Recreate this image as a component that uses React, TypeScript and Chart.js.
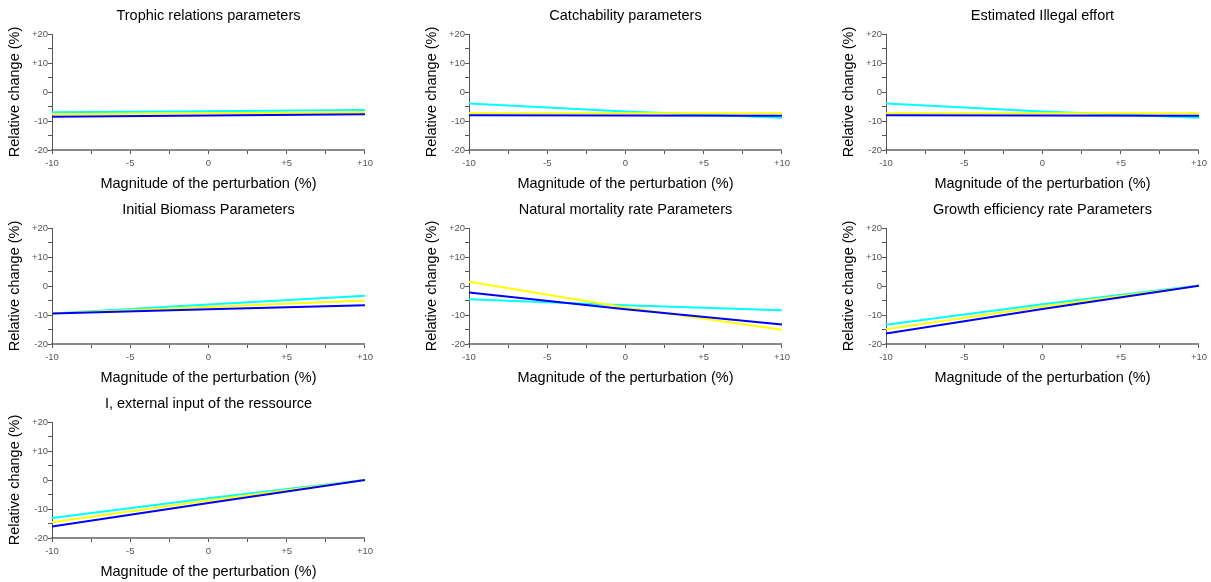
import React, { useEffect, useRef } from "react";
import { Chart, registerables } from "chart.js";

Chart.register(...registerables);

// Shared axis data
const perturbation = [-10, 0, 10];
const xTickValues = [-10, -5, 0, 5, 10];
const yTickValues = [-20, -10, 0, 10, 20];

// Panel titles
const panelTitles = [
  "Trophic relations parameters",
  "Catchability parameters",
  "Estimated Illegal effort",
  "Initial Biomass Parameters",
  "Natural mortality rate Parameters",
  "Growth efficiency rate Parameters",
  "I, external input of the ressource",
];

// Series values (relative change %, at perturbation -10, 0, +10)
const trophicCyan = [-7.0, -6.6, -6.2];
const trophicYellow = [-7.7, -7.3, -7.0];
const trophicBlue = [-8.5, -8.1, -7.7];

const catchCyan = [-4.0, -6.7, -8.9];
const catchYellow = [-7.3, -7.3, -7.3];
const catchBlue = [-8.0, -8.1, -8.2];

const illegalCyan = [-4.0, -6.7, -8.9];
const illegalYellow = [-7.3, -7.3, -7.3];
const illegalBlue = [-8.0, -8.1, -8.2];

const biomassCyan = [-9.5, -6.4, -3.4];
const biomassYellow = [-9.5, -7.2, -5.0];
const biomassBlue = [-9.5, -8.0, -6.6];

const mortalityCyan = [-4.6, -6.6, -8.4];
const mortalityYellow = [1.5, -7.4, -15.1];
const mortalityBlue = [-2.2, -8.0, -13.3];

const growthCyan = [-13.4, -6.3, 0.2];
const growthYellow = [-14.9, -7.1, 0.1];
const growthBlue = [-16.4, -7.9, 0.1];

const inputCyan = [-13.1, -6.3, 0.0];
const inputYellow = [-14.6, -7.1, 0.0];
const inputBlue = [-16.0, -7.9, 0.0];

const seriesColors = { cyan: "#00ffff", yellow: "#ffff00", blue: "#0000ff" };

const panelSeries = [
  [trophicCyan, trophicYellow, trophicBlue],
  [catchCyan, catchYellow, catchBlue],
  [illegalCyan, illegalYellow, illegalBlue],
  [biomassCyan, biomassYellow, biomassBlue],
  [mortalityCyan, mortalityYellow, mortalityBlue],
  [growthCyan, growthYellow, growthBlue],
  [inputCyan, inputYellow, inputBlue],
];

const FONT = "'Liberation Sans', Arial, sans-serif";

const titlePlugin = {
  id: "panelTitle",
  afterDraw(chart: any) {
    const text = chart.options.plugins.panelTitle?.text;
    if (!text) return;
    const { ctx, chartArea } = chart;
    ctx.save();
    ctx.font = `14.5px ${FONT}`;
    ctx.fillStyle = "#000";
    ctx.textAlign = "center";
    ctx.textBaseline = "middle";
    ctx.fillText(text, (chartArea.left + chartArea.right) / 2, 16);
    ctx.restore();
  },
};

function fmt(v: number) {
  return v > 0 ? "+" + v : String(v);
}

function Panel({ index }: { index: number }) {
  const ref = useRef<HTMLCanvasElement>(null);
  useEffect(() => {
    const [cyan, yellow, blue] = panelSeries[index];
    const toPts = (arr: number[]) => perturbation.map((x, i) => ({ x, y: arr[i] }));
    const chart = new Chart(ref.current!, {
      type: "line",
      data: {
        datasets: [
          { data: toPts(blue), borderColor: seriesColors.blue, borderWidth: 2, pointRadius: 0, tension: 0 },
          { data: toPts(yellow), borderColor: seriesColors.yellow, borderWidth: 2, pointRadius: 0, tension: 0 },
          { data: toPts(cyan), borderColor: seriesColors.cyan, borderWidth: 2, pointRadius: 0, tension: 0 },
        ],
      },
      options: {
        animation: false,
        responsive: false,
        events: [],
        layout: { padding: { top: 34, left: 0, right: 12, bottom: 0 } },
        plugins: {
          legend: { display: false },
          tooltip: { enabled: false },
          panelTitle: { text: panelTitles[index] },
        } as any,
        scales: {
          x: {
            type: "linear",
            min: -10,
            max: 10,
            afterFit: (s: any) => { s.height = 44; },
            border: { display: true, color: "#8a8a8a", width: 2 },
            grid: { drawOnChartArea: false, drawTicks: true, tickLength: 4, tickColor: "#555" },
            ticks: {
              stepSize: 2.5,
              autoSkip: false,
              maxRotation: 0,
              padding: 4,
              color: "#555",
              font: { family: FONT, size: 9.5 },
              callback: (v: any) => (xTickValues.includes(Number(v)) ? fmt(Number(v)) : ""),
            },
            title: {
              display: true,
              text: "Magnitude of the perturbation (%)",
              color: "#000",
              font: { family: FONT, size: 14.5 },
              padding: { top: 0, bottom: 1.3 },
            },
          },
          y: {
            type: "linear",
            min: -20,
            max: 20,
            afterFit: (s: any) => { s.width = 52; },
            border: { display: true, color: "#555", width: 1 },
            grid: { drawOnChartArea: false, drawTicks: true, tickLength: 4, tickColor: "#555" },
            ticks: {
              stepSize: 5,
              autoSkip: false,
              padding: 0,
              color: "#555",
              font: { family: FONT, size: 9.5 },
              callback: (v: any) => (yTickValues.includes(Number(v)) ? fmt(Number(v)) : ""),
            },
            title: {
              display: true,
              text: "Relative change (%)",
              color: "#000",
              font: { family: FONT, size: 14.5 },
              padding: { top: 6.3, bottom: 0 },
            },
          },
        },
      },
      plugins: [titlePlugin],
    } as any);
    return () => chart.destroy();
  }, [index]);
  const col = index % 3;
  const row = Math.floor(index / 3);
  return (
    <div style={{ position: "absolute", left: col * 417, top: row * 194, width: 377, height: 194 }}>
      <canvas ref={ref} width={377} height={194} style={{ width: 377, height: 194, display: "block" }} />
    </div>
  );
}

export default function App() {
  return (
    <div style={{ position: "absolute", left: 0, top: 0, width: 1211, height: 582, background: "#fff", overflow: "hidden" }}>
      {panelTitles.map((_, i) => (
        <Panel key={i} index={i} />
      ))}
    </div>
  );
}
